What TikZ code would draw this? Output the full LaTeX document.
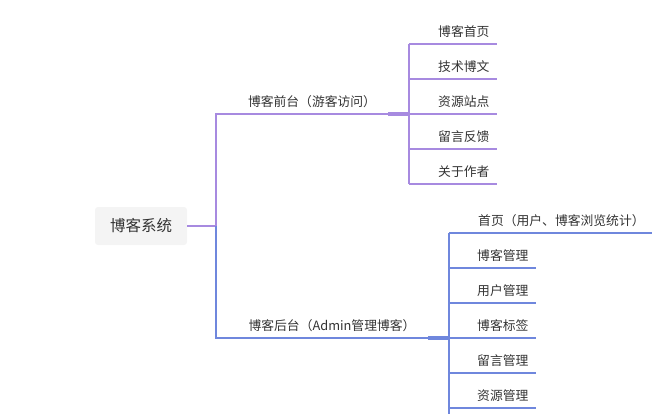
\documentclass[tikz,border=0pt]{standalone}
\usepackage{fontspec}
\setmainfont{Noto Sans CJK SC}
\usetikzlibrary{positioning}
\definecolor{frontc}{HTML}{A78AE0}
\definecolor{backc}{HTML}{6F87DD}
\definecolor{rootbg}{HTML}{F4F4F4}
\definecolor{txt}{HTML}{333333}

\begin{document}
\begin{tikzpicture}[
  x=1pt, y=-1pt,
  font=\fontsize{12.8}{15}\selectfont, text=txt,
  rootbox/.style={fill=rootbg, rounded corners=3pt, minimum width=92pt,
                  minimum height=38pt, font=\fontsize{15.5}{18}\selectfont},
  branch/.style={anchor=south, inner sep=0pt, yshift=6pt},
  leaf/.style={anchor=south west, inner xsep=0pt, inner ysep=6pt},
  fr/.style={draw=frontc, line width=2.5pt},
  bk/.style={draw=backc, line width=2.5pt}
]
\useasboundingbox (0,0) rectangle (670,413);

%% --- 根节点 ---
\node[rootbox] (root) at (141,226) {博客系统};
\coordinate (tr) at (216,226);

%% --- 博客前台 ---
\coordinate (fj) at (409,114);
\node[branch] (fb) at (312,114) {博客前台（游客访问）};
\foreach \t [count=\i] in {博客首页,技术博文,资源站点,留言反馈,关于作者}
  \node[leaf] (f\i) at (438,{44+35*(\i-1)}) {\t};
\foreach \i in {1,...,5}
  \draw[fr] (fj |- f\i.south) -- ([xshift=7pt]f\i.south east);
\draw[fr] (fj |- f1.south) -- (fj |- f5.south);
\draw[fr] (root.east) -- (tr) -- (tr |- fj) -- (fj);
\draw[frontc, line width=4pt] ([xshift=-21pt]fj) -- (fj);

%% --- 博客后台 ---
\coordinate (bj) at (449,338);
\node[branch] (bb) at (332,338) {博客后台（Admin管理博客）};
\node[leaf] (b1) at (478,233) {首页（用户、博客浏览统计）};
\foreach \t [count=\i from 2] in {博客管理,用户管理,博客标签,留言管理,资源管理}
  \node[leaf] (b\i) at (477,{233+35*(\i-1)}) {\t};
\foreach \i in {1,...,6}
  \draw[bk] (bj |- b\i.south) -- ([xshift=7pt]b\i.south east);
\draw[bk] (bj |- b1.south) -- (bj |- b6.south) -- ++(0,6);
\draw[bk] (tr) -- (tr |- bj) -- (bj);
\draw[backc, line width=4pt] ([xshift=-21pt]bj) -- (bj);
\end{tikzpicture}
\end{document}
